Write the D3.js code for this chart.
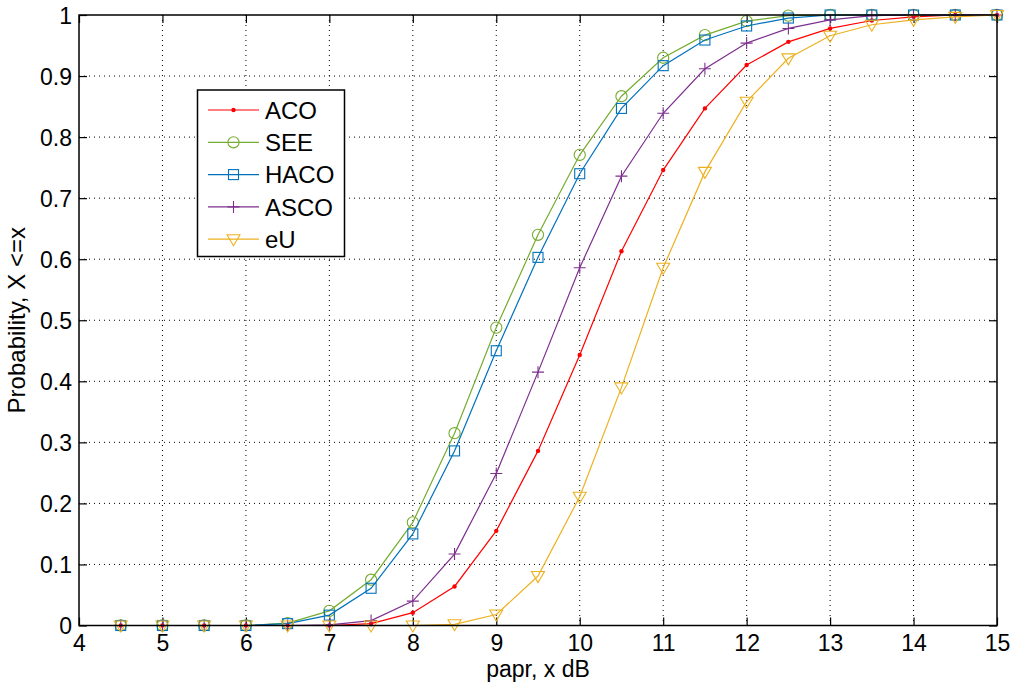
<!DOCTYPE html>
<html><head><meta charset="utf-8">
<script src="https://cdn.jsdelivr.net/npm/d3@7"></script>
<style>
html,body{margin:0;padding:0;background:#fff;}
svg{display:block;font-family:"Liberation Sans",Arial,Helvetica,sans-serif;}
</style></head>
<body>
<svg id="chart" width="1014" height="682"></svg>
<script>
const xValues = [4,4.5,5,5.5,6,6.5,7,7.5,8,8.5,9,9.5,10,10.5,11,11.5,12,12.5,13,13.5,14,14.5,15];
const aco  = [0,0,0,0,0,0,0,0.003,0.021,0.064,0.155,0.286,0.443,0.613,0.746,0.847,0.918,0.956,0.978,0.991,0.997,1,1];
const see  = [0,0,0,0,0,0.004,0.024,0.075,0.169,0.315,0.488,0.640,0.771,0.867,0.930,0.967,0.990,0.999,1,1,1,1,1];
const haco = [0,0,0,0,0,0.003,0.017,0.061,0.150,0.286,0.450,0.603,0.740,0.847,0.917,0.959,0.982,0.995,1,1,1,1,1];
const asco = [0,0,0,0,0,0,0.001,0.008,0.040,0.117,0.249,0.415,0.586,0.736,0.839,0.912,0.954,0.978,0.992,0.999,1,1,1];
const eu   = [0,0,0,0,0,0,0,0,0,0.002,0.018,0.081,0.211,0.390,0.586,0.743,0.858,0.929,0.966,0.984,0.992,0.997,1];
const seriesNames = ["ACO","SEE","HACO","ASCO","eU"];
const xTicks = [4,5,6,7,8,9,10,11,12,13,14,15];
const yTicks = [0,0.1,0.2,0.3,0.4,0.5,0.6,0.7,0.8,0.9,1];
const xLabel = "papr, x dB";
const yLabel = "Probability, X <=x";

const seriesData = [aco, see, haco, asco, eu];
const colors = ["#ff0000","#77ac30","#0072bd","#7e2f8e","#edb120"];
const markers = ["dot","circle","square","plus","tri"];

const svg = d3.select("#chart");
const L = 79, R = 997, T = 15, B = 625.5;
const x = d3.scaleLinear().domain([4,15]).range([L,R]);
const y = d3.scaleLinear().domain([0,1]).range([B,T]);

// grid
const grid = svg.append("g").attr("stroke","#000").attr("stroke-width",1).attr("stroke-dasharray","1,4");
xTicks.slice(1,-1).forEach(t=>grid.append("line").attr("x1",x(t)).attr("x2",x(t)).attr("y1",T).attr("y2",B));
yTicks.slice(1,-1).forEach(t=>grid.append("line").attr("y1",y(t)).attr("y2",y(t)).attr("x1",L).attr("x2",R));

// axes with inward ticks
const tickLen = 8;
const fs = 23;
const gx = svg.append("g").attr("transform",`translate(0,${B})`)
  .call(d3.axisBottom(x).tickValues(xTicks).tickSizeInner(-tickLen).tickSizeOuter(0).tickPadding(9).tickFormat(d3.format("d")));
const gxT = svg.append("g").attr("transform",`translate(0,${T})`)
  .call(d3.axisTop(x).tickValues(xTicks).tickSizeInner(-tickLen).tickSizeOuter(0).tickFormat(""));
const gy = svg.append("g").attr("transform",`translate(${L},0)`)
  .call(d3.axisLeft(y).tickValues(yTicks).tickSizeInner(-tickLen).tickSizeOuter(0).tickPadding(7).tickFormat(d=>d3.format("")(+d.toFixed(1))));
const gyR = svg.append("g").attr("transform",`translate(${R},0)`)
  .call(d3.axisRight(y).tickValues(yTicks).tickSizeInner(-tickLen).tickSizeOuter(0).tickFormat(""));
[gx,gxT,gy,gyR].forEach(g=>{
  g.select(".domain").remove();
  g.selectAll(".tick line").attr("stroke","#000").attr("stroke-width",1.2);
  g.selectAll("text").attr("fill","#000").attr("font-size",fs).attr("font-family","Liberation Sans, Arial, sans-serif");
});
gx.selectAll("text").attr("dy","0.71em");
gy.selectAll("text").attr("dy","0.36em");

// series
const lineGen = d3.line().x((d,i)=>x(xValues[i])).y(d=>y(d));
function drawMarker(g, type, cx, cy, color){
  if(type==="dot") g.append("circle").attr("cx",cx).attr("cy",cy).attr("r",2.2).attr("fill",color);
  else if(type==="circle") g.append("circle").attr("cx",cx).attr("cy",cy).attr("r",5.6).attr("fill","none").attr("stroke",color).attr("stroke-width",1.1);
  else if(type==="square") g.append("rect").attr("x",cx-5).attr("y",cy-5).attr("width",10).attr("height",10).attr("fill","none").attr("stroke",color).attr("stroke-width",1.1);
  else if(type==="plus") g.append("path").attr("d",`M${cx-6},${cy}H${cx+6}M${cx},${cy-6}V${cy+6}`).attr("stroke",color).attr("stroke-width",1.1).attr("fill","none");
  else if(type==="tri") g.append("path").attr("d",`M${cx-6.5},${cy-4.5}L${cx+6.5},${cy-4.5}L${cx},${cy+6.5}Z`).attr("fill","none").attr("stroke",color).attr("stroke-width",1.1);
}
seriesData.forEach((vals,si)=>{
  const g = svg.append("g");
  g.append("path").attr("d",lineGen(vals)).attr("fill","none").attr("stroke",colors[si]).attr("stroke-width",1.2);
  vals.forEach((v,i)=>{ if(xValues[i]>4) drawMarker(g, markers[si], x(xValues[i]), y(v), colors[si]); });
});

// box
svg.append("rect").attr("x",L).attr("y",T).attr("width",R-L).attr("height",B-T).attr("fill","none").attr("stroke","#000").attr("stroke-width",1.5);

// labels
svg.append("text").attr("x",(L+R)/2).attr("y",677).attr("text-anchor","middle").attr("font-size",23).attr("fill","#000").text(xLabel);
svg.append("text").attr("transform",`translate(25,${(T+B)/2}) rotate(-90)`).attr("text-anchor","middle").attr("font-size",24).attr("fill","#000").text(yLabel);

// legend
const lg = svg.append("g");
lg.append("rect").attr("x",197.5).attr("y",90).attr("width",147).attr("height",166.5).attr("fill","#fff").attr("stroke","#000").attr("stroke-width",1.5);
seriesNames.forEach((n,i)=>{
  const cy = 110 + i*32.3;
  lg.append("line").attr("x1",208).attr("x2",259).attr("y1",cy).attr("y2",cy).attr("stroke",colors[i]).attr("stroke-width",1.2);
  drawMarker(lg, markers[i], 233.5, cy, colors[i]);
  lg.append("text").attr("x",265).attr("y",cy).attr("dy","0.36em").attr("font-size",24).attr("fill","#000").text(n);
});
</script>
</body></html>
